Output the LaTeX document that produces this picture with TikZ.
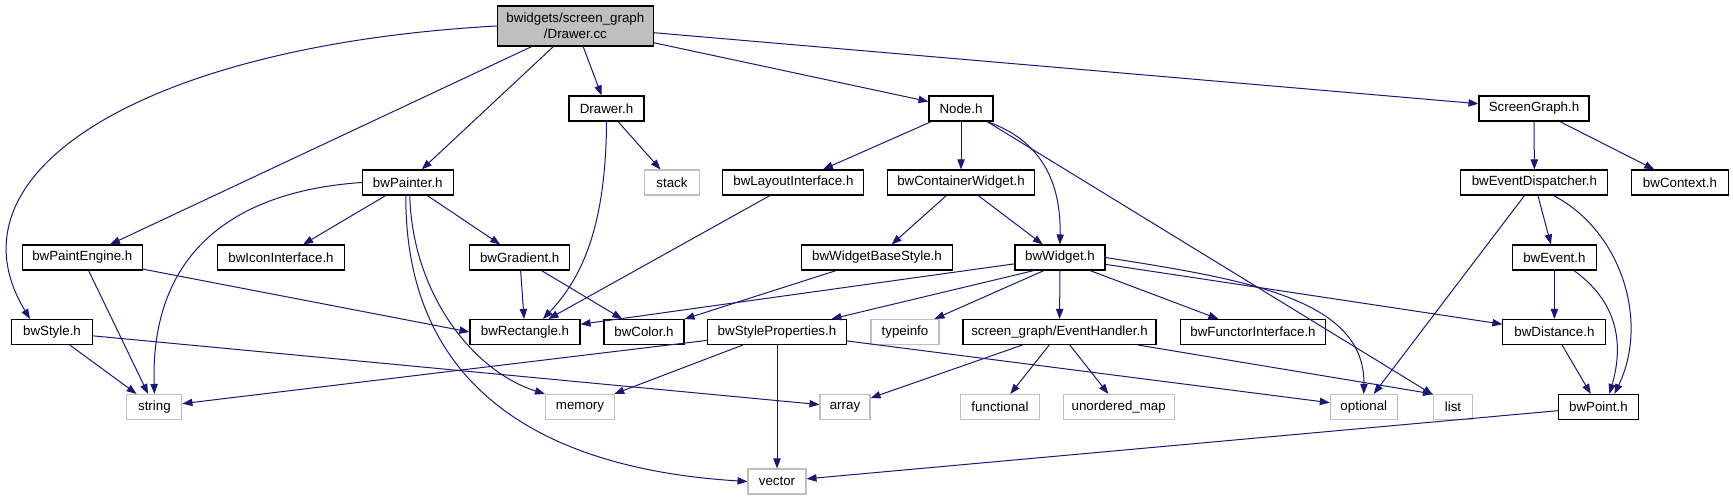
\documentclass[tikz,border=0pt]{standalone}
\usepackage{fontspec}
\setmainfont{Liberation Sans}
\usetikzlibrary{arrows.meta, calc}

\definecolor{edgeblue}{HTML}{191970}
\definecolor{gray75}{HTML}{BFBFBF}

\begin{document}
\begin{tikzpicture}[
        x=0.75pt, y=-0.75pt,
        font=\fontsize{10}{12}\selectfont,
        file/.style={draw, line width=0.8pt, inner sep=0pt, minimum height=18.75pt, minimum width=#1*0.75pt},
        sys/.style={file=#1, draw=gray75},
        arrow/.style={-{Triangle[length=7.5pt, width=5.5pt]}, line width=0.75pt, draw=edgeblue}
    ]
        \useasboundingbox (0,0) rectangle (1733,500);

        % Source file
        \node[file=156, fill=gray75, minimum height=30pt, align=center] (drawer_cc) at (575.4,26) {bwidgets/screen\_graph\\/Drawer.cc};

        % Direct includes
        \node[file=75] (drawer_h) at (606.5,108.5) {Drawer.h};
        \node[file=64] (node_h) at (961,108.5) {Node.h};
        \node[file=110] (screengraph) at (1534,108.5) {ScreenGraph.h};

        \node[file=91] (painter) at (407.8,182.5) {bwPainter.h};
        \node[sys=55] (stack) at (672,182.5) {stack};
        \node[file=141] (layout) at (793.4,182.5) {bwLayoutInterface.h};
        \node[file=147] (container) at (961,182.5) {bwContainerWidget.h};
        \node[file=147] (dispatcher) at (1534.4,182.5) {bwEventDispatcher.h};
        \node[file=97] (context) at (1680,182.5) {bwContext.h};

        \node[file=120] (paintengine) at (82.3,257.5) {bwPaintEngine.h};
        \node[file=127] (iconif) at (281,257.5) {bwIconInterface.h};
        \node[file=100] (gradient) at (519.7,257.5) {bwGradient.h};
        \node[file=151] (basestyle) at (877,257.5) {bwWidgetBaseStyle.h};
        \node[file=90] (widget) at (1060,257.5) {bwWidget.h};
        \node[file=84] (event) at (1554.4,257.5) {bwEvent.h};

        \node[file=81] (style) at (52,332) {bwStyle.h};
        \node[file=110] (rectangle) at (525,332) {bwRectangle.h};
        \node[file=80] (color) at (644,332) {bwColor.h};
        \node[file=139] (styleprops) at (777,332) {bwStyleProperties.h};
        \node[sys=68] (typeinfo) at (905,332) {typeinfo};
        \node[file=193] (handler) at (1059.5,332) {screen\_graph/EventHandler.h};
        \node[file=145] (functor) at (1253,332) {bwFunctorInterface.h};
        \node[file=103] (distance) at (1554.4,332) {bwDistance.h};

        % System headers
        \node[sys=55] (string) at (154.4,407) {string};
        \node[sys=69] (memory) at (580,407) {memory};
        \node[sys=50] (array) at (845,407) {array};
        \node[sys=79] (functional) at (1000,407) {functional};
        \node[sys=111] (umap) at (1118.7,407) {unordered\_map};
        \node[sys=67] (optional) at (1363.8,407) {optional};
        \node[sys=39] (list) at (1453,407) {list};
        \node[file=80] (point) at (1598.4,407) {bwPoint.h};
        \node[sys=58] (vector) at (777,481.5) {vector};

        % Edges from the source file
        \draw[arrow] (drawer_cc.west) .. controls (150,45) and (-60,170) .. ($(style.north)+(-22,0)$);
        \draw[arrow] (drawer_cc) -- (paintengine);
        \draw[arrow] (drawer_cc) -- (painter);
        \draw[arrow] (drawer_cc) -- (drawer_h);
        \draw[arrow] (drawer_cc) -- (node_h);
        \draw[arrow] (drawer_cc) -- (screengraph);

        % Second level
        \draw[arrow] (drawer_h) -- (stack);
        \draw[arrow] (drawer_h.south) .. controls (606,230) and (580,280) .. ($(rectangle.north)+(18,0)$);
        \draw[arrow] (node_h) -- (layout);
        \draw[arrow] (node_h) -- (container);
        \draw[arrow] ($(node_h.south)+(26,0)$) .. controls (1040,140) and (1061,180) .. (widget.north);
        \draw[arrow] ($(node_h.south)+(26,0)$) -- (list);
        \draw[arrow] (screengraph) -- (dispatcher);
        \draw[arrow] (screengraph) -- (context);

        % Third level
        \draw[arrow] (painter.west) .. controls (250,190) and (150,240) .. (string.north);
        \draw[arrow] (painter) -- (iconif);
        \draw[arrow] (painter) -- (gradient);
        \draw[arrow] ($(painter.south)+(2,0)$) .. controls (412,290) and (470,370) .. (memory.north west);
        \draw[arrow] ($(painter.south)+(-2,0)$) .. controls (405,400) and (560,470) .. (vector.west);
        \draw[arrow] (layout) -- (rectangle);
        \draw[arrow] (container) -- (basestyle);
        \draw[arrow] (container) -- (widget);
        \draw[arrow] (dispatcher) -- (optional);
        \draw[arrow] (dispatcher) -- (event);
        \draw[arrow] ($(dispatcher.south)+(19,0)$) .. controls (1620,230) and (1650,320) .. ($(point.north)+(16,0)$);

        % Fourth level
        \draw[arrow] (paintengine) -- (string);
        \draw[arrow] (paintengine) -- (rectangle.west);
        \draw[arrow] (gradient) -- (rectangle);
        \draw[arrow] (gradient) -- (color);
        \draw[arrow] (basestyle) -- (color);
        \draw[arrow] (widget) -- (rectangle);
        \draw[arrow] ($(widget.south)+(-26,0)$) -- (styleprops);
        \draw[arrow] ($(widget.south)+(-16,0)$) -- (typeinfo);
        \draw[arrow] (widget) -- (handler);
        \draw[arrow] ($(widget.south)+(30,0)$) -- (functor);
        \draw[arrow] (widget.east) .. controls (1250,280) and (1365,300) .. (optional.north);
        \draw[arrow] (widget) -- (distance);
        \draw[arrow] (event) -- (distance);
        \draw[arrow] ($(event.south)+(19.5,0)$) .. controls (1615,300) and (1625,340) .. ($(point.north)+(11,0)$);

        % Fifth level
        \draw[arrow] (style) -- (string);
        \draw[arrow] (style) -- (array);
        \draw[arrow] (styleprops) -- (string);
        \draw[arrow] (styleprops) -- (memory);
        \draw[arrow] (styleprops) -- (vector);
        \draw[arrow] (styleprops) -- (optional);
        \draw[arrow] (handler) -- (array);
        \draw[arrow] (handler) -- (functional);
        \draw[arrow] (handler) -- (umap);
        \draw[arrow] (handler) -- (list.north west);
        \draw[arrow] (distance) -- (point);
        \draw[arrow] (point) -- (vector);

    \end{tikzpicture}
\end{document}
